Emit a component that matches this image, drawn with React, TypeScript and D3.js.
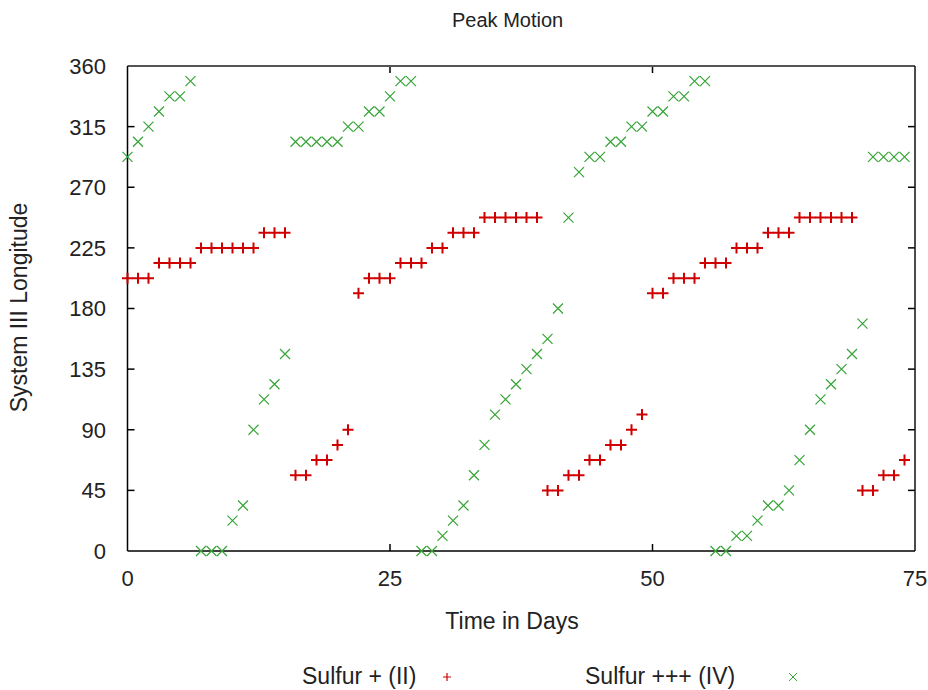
import React from "react";
import * as d3 from "d3";

const days = [
  0, 1, 2, 3, 4, 5, 6, 7, 8, 9, 10, 11, 12, 13, 14, 15, 16, 17, 18, 19, 20, 21, 22, 23, 24,
  25, 26, 27, 28, 29, 30, 31, 32, 33, 34, 35, 36, 37, 38, 39, 40, 41, 42, 43, 44, 45, 46, 47, 48, 49,
  50, 51, 52, 53, 54, 55, 56, 57, 58, 59, 60, 61, 62, 63, 64, 65, 66, 67, 68, 69, 70, 71, 72, 73, 74,
];

const sulfurII = [
  202.5, 202.5, 202.5, 213.75, 213.75, 213.75, 213.75, 225, 225, 225, 225, 225, 225, 236.25, 236.25, 236.25,
  56.25, 56.25, 67.5, 67.5, 78.75, 90,
  191.25, 202.5, 202.5, 202.5, 213.75, 213.75, 213.75, 225, 225, 236.25, 236.25, 236.25,
  247.5, 247.5, 247.5, 247.5, 247.5, 247.5,
  45, 45, 56.25, 56.25, 67.5, 67.5, 78.75, 78.75, 90, 101.25,
  191.25, 191.25, 202.5, 202.5, 202.5, 213.75, 213.75, 213.75, 225, 225, 225, 236.25, 236.25, 236.25,
  247.5, 247.5, 247.5, 247.5, 247.5, 247.5,
  45, 45, 56.25, 56.25, 67.5,
];

const sulfurIV = [
  292.5, 303.75, 315, 326.25, 337.5, 337.5, 348.75,
  0, 0, 0, 22.5, 33.75, 90, 112.5, 123.75, 146.25,
  303.75, 303.75, 303.75, 303.75, 303.75, 315, 315, 326.25, 326.25, 337.5, 348.75, 348.75,
  0, 0, 11.25, 22.5, 33.75, 56.25, 78.75, 101.25, 112.5, 123.75, 135, 146.25, 157.5, 180,
  247.5, 281.25, 292.5, 292.5, 303.75, 303.75, 315, 315, 326.25, 326.25, 337.5, 337.5, 348.75, 348.75,
  0, 0, 11.25, 11.25, 22.5, 33.75, 33.75, 45, 67.5, 90, 112.5, 123.75, 135, 146.25, 168.75,
  292.5, 292.5, 292.5, 292.5,
];

const xTicks = [0, 25, 50, 75];
const yTicks = [0, 45, 90, 135, 180, 225, 270, 315, 360];
const seriesNames = ["Sulfur + (II)", "Sulfur +++ (IV)"];
const titleText = "Peak Motion";
const xLabel = "Time in Days";
const yLabel = "System III Longitude";

const RED = "#d00000";
const GREEN = "#36a336";
const FONT = "'Liberation Sans', Arial, sans-serif";

export default function App() {
  const W = 928;
  const H = 690;
  const x = d3.scaleLinear().domain([0, 75]).range([127.5, 915]);
  const y = d3.scaleLinear().domain([0, 360]).range([551, 66]);
  const [x0, x1] = x.range();
  const [y0, y1] = y.range();
  const tl = 7;
  const fsTick = 22;
  const fsLab = 23;

  const plus = (cx: number, cy: number, s: number) => `M${cx - s},${cy}H${cx + s}M${cx},${cy - s}V${cy + s}`;
  const cross = (cx: number, cy: number, s: number) =>
    `M${cx - s},${cy - s}L${cx + s},${cy + s}M${cx - s},${cy + s}L${cx + s},${cy - s}`;

  return (
    <svg width={W} height={H} style={{ position: "absolute", left: 0, top: 0, background: "#fff" }}>
      <rect x={0} y={0} width={W} height={H} fill="#fff" />
      <text x={452} y={27} fontFamily={FONT} fontSize={20} fill="#222">{titleText}</text>

      {/* ticks */}
      {yTicks.map((t) => (
        <g key={"y" + t}>
          {t !== 0 && t !== 360 && (
            <>
              <line x1={x0} x2={x0 + tl} y1={y(t)} y2={y(t)} stroke="#000" strokeWidth={1.5} />
              <line x1={x1} x2={x1 - tl} y1={y(t)} y2={y(t)} stroke="#000" strokeWidth={1.5} />
            </>
          )}
          <text x={106} y={y(t)} dy="0.36em" textAnchor="end" fontFamily={FONT} fontSize={fsTick} fill="#222">{t}</text>
        </g>
      ))}
      {xTicks.map((t) => (
        <g key={"x" + t}>
          {t !== 0 && t !== 75 && (
            <>
              <line x1={x(t)} x2={x(t)} y1={y0} y2={y0 - tl} stroke="#000" strokeWidth={1.5} />
              <line x1={x(t)} x2={x(t)} y1={y1} y2={y1 + tl} stroke="#000" strokeWidth={1.5} />
            </>
          )}
          <text x={x(t)} y={586} textAnchor="middle" fontFamily={FONT} fontSize={fsTick} fill="#222">{t}</text>
        </g>
      ))}

      {/* frame */}
      <line x1={x0} x2={x1} y1={y1} y2={y1} stroke="#555" strokeWidth={2} />
      <line x1={x1} x2={x1} y1={y1} y2={y0} stroke="#111" strokeWidth={1.5} />
      <line x1={x0} x2={x0} y1={y1} y2={y0} stroke="#000" strokeWidth={1.5} />
      <line x1={x0} x2={x1} y1={y0} y2={y0} stroke="#000" strokeWidth={1.5} />

      {/* data */}
      <g>
        {days.map((d, i) => (
          <path key={"r" + i} d={plus(x(d), y(sulfurII[i]), 5.5)} stroke={RED} strokeWidth={2} fill="none" />
        ))}
        {days.map((d, i) => (
          <path key={"g" + i} d={cross(x(d), y(sulfurIV[i]), 5)} stroke={GREEN} strokeWidth={1.2} fill="none" />
        ))}
      </g>

      <text x={512} y={629} textAnchor="middle" fontFamily={FONT} fontSize={fsLab} fill="#222">{xLabel}</text>
      <text transform="translate(27,307.5) rotate(-90)" textAnchor="middle" fontFamily={FONT} fontSize={fsLab} fill="#222">{yLabel}</text>

      {/* legend */}
      <text x={302} y={684} fontFamily={FONT} fontSize={fsLab} fill="#222">{seriesNames[0]}</text>
      <path d={plus(447, 677, 4)} stroke={RED} strokeWidth={1.2} fill="none" />
      <text x={585} y={684} fontFamily={FONT} fontSize={fsLab} fill="#222">{seriesNames[1]}</text>
      <path d={cross(793, 677, 4)} stroke={GREEN} strokeWidth={1} fill="none" />
    </svg>
  );
}
